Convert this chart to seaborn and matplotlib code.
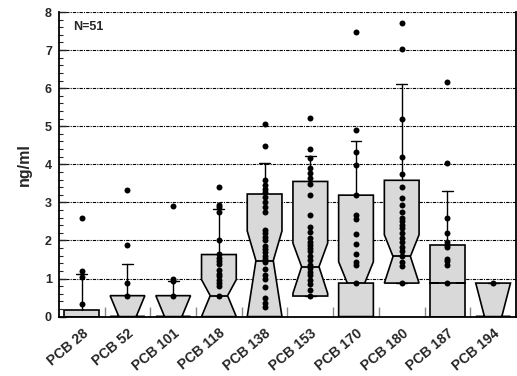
import pandas as pd
import matplotlib
matplotlib.use("Agg")
import matplotlib.pyplot as plt
import seaborn as sns
from matplotlib.ticker import MultipleLocator, FixedLocator

# ===================== Data =====================
labels = ["PCB 28", "PCB 52", "PCB 101", "PCB 118", "PCB 138",
          "PCB 153", "PCB 170", "PCB 180", "PCB 187", "PCB 194"]

# box statistics (ng/ml)
q1 = [0, 0, 0, 0, 0, 0.54, 0, 0.88, 0, 0]
med = [0, 0, 0, 0.55, 1.47, 1.31, 0.88, 1.58, 0.88, 0]
q3 = [0.17, 0.55, 0.55, 1.63, 3.22, 3.55, 3.19, 3.58, 1.87, 0.88]
ci_lo = [0, 0, 0, 0, 0, 0.61, 0.88, 0.88, 0.88, 0]
ci_hi = [0, 0.55, 0.55, 0.97, 2.25, 1.93, 1.44, 2.15, 0.88, 0.88]
whisk_hi = [1.11, 1.37, 0.93, 2.82, 4.03, 4.22, 4.61, 6.10, 3.31, 0.88]

# individual measurements
p28 = [2.58, 1.2, 1.05, 0.33]
p52 = [3.33, 1.87, 0.87, 0.55]
p101 = [2.9, 1.0, 0.94, 0.55]
p118 = [3.4, 2.92, 2.88, 2.74, 2.0, 1.65, 1.55, 1.45, 1.38, 1.22, 1.13,
        1.07, 0.97, 0.87, 0.8, 0.55]
p138 = [5.06, 4.49, 3.59, 3.46, 3.35, 3.27, 3.15, 3.02, 2.89, 2.76, 2.28,
        2.19, 2.10, 2.01, 1.86, 1.78, 1.69, 1.60, 1.52, 1.43, 1.25, 1.10,
        0.99, 0.79, 0.48, 0.35, 0.24]
p153 = [5.22, 4.4, 4.16, 3.9, 3.77, 3.63, 3.47, 3.2, 2.67, 2.36, 2.22, 2.06,
        1.97, 1.88, 1.8, 1.71, 1.6, 1.49, 1.36, 1.27, 1.18, 1.1, 0.96, 0.86,
        0.7, 0.54]
p170 = [7.48, 4.9, 4.33, 3.97, 3.19, 2.67, 2.57, 2.16, 1.90, 1.65, 1.44,
        1.36, 0.88]
p180 = [7.7, 7.02, 5.19, 4.18, 3.75, 3.41, 3.11, 2.93, 2.76, 2.58, 2.5, 2.41,
        2.32, 2.19, 2.06, 1.97, 1.84, 1.71, 1.58, 1.44, 1.33, 0.88]
p187 = [6.17, 4.03, 2.58, 2.19, 1.96, 1.88, 1.82, 1.51, 1.45, 1.36, 0.88]
p194 = [0.88]

points = [p28, p52, p101, p118, p138, p153, p170, p180, p187, p194]

# long table for seaborn
df = pd.concat(
    [pd.DataFrame({"congener": lab, "value": vals}) for lab, vals in zip(labels, points)],
    ignore_index=True)

# ===================== Style =====================
sns.set_style("ticks")
plt.rcParams["font.family"] = ["Liberation Sans", "DejaVu Sans"]
plt.rcParams["font.weight"] = "bold"

fig, ax = plt.subplots(figsize=(5.17, 3.76), dpi=100)
fig.subplots_adjust(left=0.114, right=0.998, top=0.968, bottom=0.158)

# ===================== Notched boxes =====================
stats = []
for i, lab in enumerate(labels):
    stats.append(dict(label=lab, q1=q1[i], med=med[i], q3=q3[i],
                      cilo=ci_lo[i], cihi=ci_hi[i],
                      whislo=q1[i], whishi=whisk_hi[i], fliers=[]))

ax.bxp(stats, positions=range(len(labels)), widths=0.76, shownotches=True,
       showfliers=False, patch_artist=True, manage_ticks=False,
       boxprops=dict(facecolor="#d9d9d9", edgecolor="black", linewidth=1.2),
       medianprops=dict(color="black", linewidth=1.3),
       whiskerprops=dict(color="black", linewidth=1.0),
       capprops=dict(color="black", linewidth=1.0),
       capwidths=0.24)

# ===================== Individual points =====================
sns.stripplot(data=df, x="congener", y="value", order=labels, jitter=False,
              color="black", size=4.3, linewidth=0, zorder=3, ax=ax)

# ===================== Axes =====================
ax.set_xlim(-0.5, len(labels) - 0.5)
ax.set_ylim(0, 8)
ax.set_xlabel("")
ax.set_ylabel("ng/ml", fontsize=11.5, fontweight="bold", labelpad=9)

ax.set_yticks(range(9))
ax.yaxis.set_minor_locator(MultipleLocator(0.2))
ax.tick_params(axis="y", which="major", direction="in", length=5, width=1,
               labelsize=9, pad=5)
ax.tick_params(axis="y", which="minor", direction="in", length=3, width=0.8)

ax.set_xticks(range(len(labels)))
ax.set_xticklabels(labels, rotation=40, ha="right", rotation_mode="anchor",
                   fontsize=10, fontweight="bold")
ax.xaxis.set_minor_locator(FixedLocator([i + 0.5 for i in range(len(labels) - 1)]))
ax.tick_params(axis="x", which="major", length=0, pad=7)
ax.tick_params(axis="x", which="minor", direction="in", length=7, width=1,
               color="#888888")

ax.yaxis.grid(True, which="major", linestyle=(0, (3, 1, 1, 1)), color="black",
              linewidth=0.8)
ax.set_axisbelow(True)

ax.spines["top"].set_visible(False)
for side in ["left", "bottom", "right"]:
    ax.spines[side].set_linewidth(1.3)
    ax.spines[side].set_color("black")

ax.text(0.031, 7.6, "N=51", fontsize=9, fontweight="bold", va="center",
        transform=ax.get_yaxis_transform())

fig.savefig("out.png", dpi=100)
